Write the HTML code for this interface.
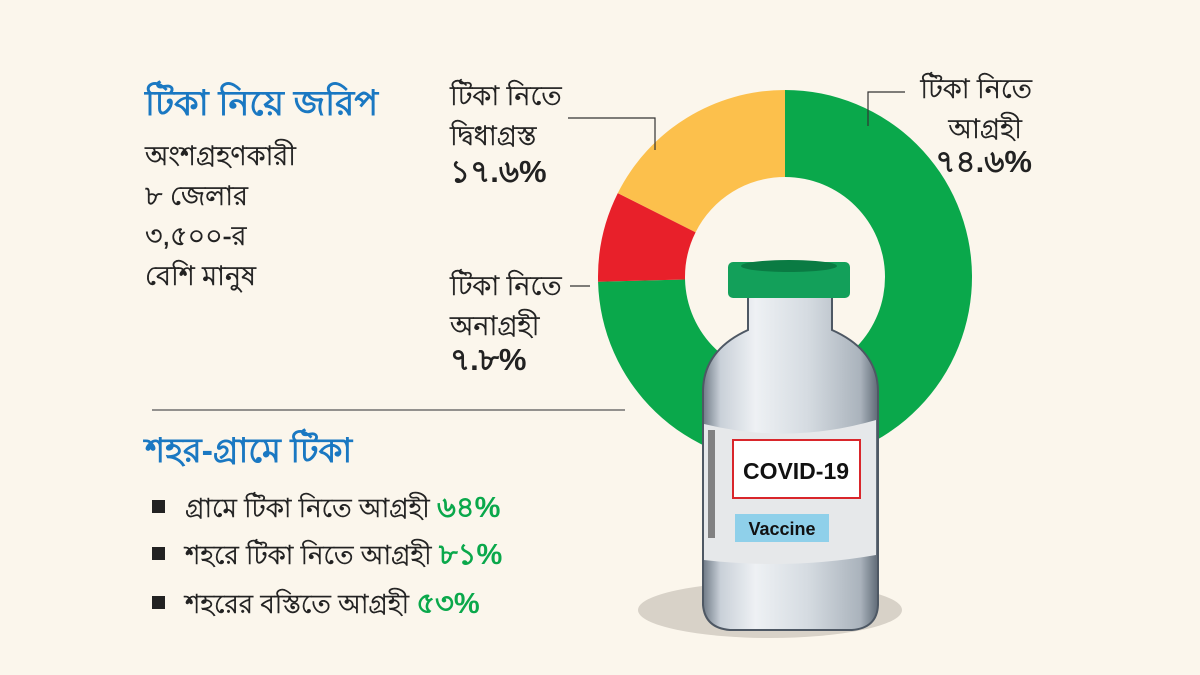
<!DOCTYPE html>
<html><head><meta charset="utf-8"><style>
body{margin:0;background:#fbf6ec;}
svg{display:block}
text{font-family:"Liberation Sans","Noto Sans CJK SC",sans-serif;}
</style></head><body>
<svg width="1200" height="675" viewBox="0 0 1200 675">
<rect width="1200" height="675" fill="#fbf6ec"/>
<path d="M785 90 A187 187 0 1 1 598.06 281.7 L685.03 279.5 A100 100 0 1 0 785 177 Z" fill="#0aa84b"/>
<path d="M598.06 281.7 A187 187 0 0 1 617.8 193.1 L695.6 232.2 A100 100 0 0 0 685.03 279.5 Z" fill="#e8202a"/>
<path d="M617.8 193.1 A187 187 0 0 1 785 90 L785 177 A100 100 0 0 0 695.6 232.2 Z" fill="#fcc04c"/>
<polyline points="868,126 868,92 905,92" fill="none" stroke="#333" stroke-width="1.2"/>
<polyline points="568,118 655,118 655,150" fill="none" stroke="#333" stroke-width="1.2"/>
<line x1="570" y1="286" x2="590" y2="286" stroke="#333" stroke-width="1.2"/>
<line x1="152" y1="410" x2="625" y2="410" stroke="#555" stroke-width="1.2"/>
<defs>
<linearGradient id="g" x1="0" x2="1">
<stop offset="0" stop-color="#6f7a86"/><stop offset="0.1" stop-color="#c9d0d8"/>
<stop offset="0.3" stop-color="#eef1f4"/><stop offset="0.6" stop-color="#d5dbe1"/>
<stop offset="0.9" stop-color="#aab3bc"/><stop offset="1" stop-color="#5f6a76"/></linearGradient>
</defs>
<ellipse cx="770" cy="610" rx="132" ry="28" fill="#d8d2c8"/>
<path d="M748 297 L748 330 Q704 350 703 390 L703 605 Q705 628 730 630 L852 630 Q877 628 878 605 L878 390 Q877 350 832 330 L832 297 Z" fill="url(#g)" stroke="#4e5864" stroke-width="2"/>
<rect x="728" y="262" width="122" height="36" rx="5" fill="#13a05a"/>
<ellipse cx="789" cy="266" rx="48" ry="6" fill="#0a7b43"/>
<path d="M704 424 Q790 445 876 420 L876 555 Q790 570 704 560 Z" fill="#e6e8ea"/>
<rect x="733" y="440" width="127" height="58" fill="#fff" stroke="#d9262b" stroke-width="2"/>
<text x="796" y="479" text-anchor="middle" font-size="23" font-weight="bold" fill="#111">COVID-19</text>
<rect x="735" y="514" width="94" height="28" fill="#8fd0ea"/>
<text x="782" y="535" text-anchor="middle" font-size="18" font-weight="bold" fill="#111">Vaccine</text>
<rect x="708" y="430" width="7" height="108" fill="#555" opacity="0.7"/>
<text x="145" y="115" font-size="35" font-weight="bold" fill="#1a78c2">টিকা নিয়ে জরিপ</text>
<g font-size="27" fill="#222" stroke="#222" stroke-width="0.4">
<text x="145" y="165">অংশগ্রহণকারী</text>
<text x="145" y="205">৮ জেলার</text>
<text x="145" y="245">৩,৫০০-র</text>
<text x="145" y="285">বেশি মানুষ</text>
<text x="450" y="105">টিকা নিতে</text>
<text x="450" y="145">দ্বিধাগ্রস্ত</text>
<text x="1032" y="98" text-anchor="end">টিকা নিতে</text>
<text x="1022" y="138" text-anchor="end">আগ্রহী</text>
<text x="450" y="295">টিকা নিতে</text>
<text x="450" y="335">অনাগ্রহী</text>
</g>
<g font-size="31" font-weight="bold" fill="#222">
<text x="450" y="182">১৭.৬%</text>
<text x="1032" y="172" text-anchor="end">৭৪.৬%</text>
<text x="450" y="370">৭.৮%</text>
</g>
<text x="145" y="462" font-size="34" font-weight="bold" fill="#1a78c2">শহর-গ্রামে টিকা</text>
<g font-size="26" fill="#222">
<rect x="152" y="500" width="13" height="13" fill="#222"/>
<text x="185" y="517" stroke="#222" stroke-width="0.4">গ্রামে টিকা নিতে আগ্রহী <tspan fill="#0aa84b" stroke="none" font-weight="bold" font-size="29">৬৪%</tspan></text>
<rect x="152" y="547" width="13" height="13" fill="#222"/>
<text x="185" y="564" stroke="#222" stroke-width="0.4">শহরে টিকা নিতে আগ্রহী  <tspan fill="#0aa84b" stroke="none" font-weight="bold" font-size="29">৮১%</tspan></text>
<rect x="152" y="596" width="13" height="13" fill="#222"/>
<text x="185" y="613" stroke="#222" stroke-width="0.4">শহরের বস্তিতে আগ্রহী <tspan fill="#0aa84b" stroke="none" font-weight="bold" font-size="29">৫৩%</tspan></text>
</g>
</svg>
</body></html>
